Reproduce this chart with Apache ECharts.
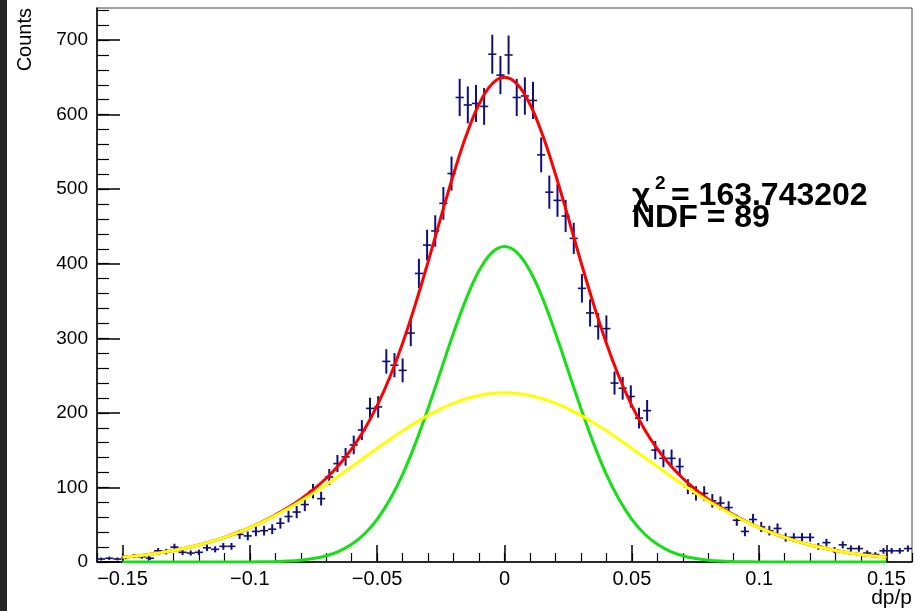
<!DOCTYPE html>
<html>
<head>
<meta charset="utf-8">
<script src="https://cdn.jsdelivr.net/npm/echarts@6/dist/echarts.min.js"></script>
<style>
html,body{margin:0;padding:0;background:#fff;}
#chart{width:916px;height:611px;}
</style>
</head>
<body>
<div id="chart"></div>
<script>
// Histogram: 100 bins from -0.16 to 0.16
const histMin = -0.16;
const binWidth = 0.0032;
const counts = [
  4, 5, 4, 6, 8, 7, 5, 15, 14, 20,
  13, 12, 13, 19, 17, 21, 21, 37, 35, 41,
  42, 44, 52, 61, 67, 77, 95, 85, 114, 132,
  141, 157, 177, 206, 208, 269, 264, 257, 307, 387,
  425, 444, 481, 521, 623, 613, 615, 611, 681, 653,
  680, 623, 625, 619, 546, 496, 485, 464, 434, 367,
  334, 316, 313, 240, 233, 222, 193, 203, 150, 139,
  139, 128, 101, 92, 92, 82, 79, 73, 56, 41,
  57, 47, 42, 45, 33, 33, 33, 33, 21, 26,
  16, 23, 18, 18, 12, 10, 15, 15, 15, 18
];

const curveX = Array.from({length: 61}, (_, i) => +(-0.15 + i * 0.005).toFixed(3));
const totalFit = [6.3,7.9,10.0,12.4,15.3,18.8,22.9,27.6,33.0,39.2,46.2,54.1,63.1,73.0,84.3,97.3,112.3,130.1,151.6,177.7,209.6,248.1,293.5,345.5,402.6,462.1,520.1,572.3,613.9,640.7,650,640.7,613.9,572.3,520.1,462.1,402.6,345.5,293.5,248.1,209.6,177.7,151.6,130.1,112.3,97.3,84.3,73.0,63.1,54.1,46.2,39.2,33.0,27.6,22.9,18.8,15.3,12.4,10.0,7.9,6.3];
const narrowFit = [0,0,0,0,0,0,0,0,0,0.1,0.1,0.3,0.7,1.3,2.5,4.7,8.4,14.4,23.7,37.6,57.2,83.7,117.6,158.8,205.9,256.6,307.1,353.3,390.5,414.6,423,414.6,390.5,353.3,307.1,256.6,205.9,158.8,117.6,83.7,57.2,37.6,23.7,14.4,8.4,4.7,2.5,1.3,0.7,0.3,0.1,0.1,0,0,0,0,0,0,0,0,0];
const wideFit = [6.3,7.9,10.0,12.4,15.3,18.8,22.9,27.6,33.0,39.1,46.1,53.8,62.4,71.7,81.8,92.6,103.9,115.7,127.9,140.1,152.4,164.4,175.9,186.7,196.7,205.5,213.0,219.0,223.4,226.1,227,226.1,223.4,219.0,213.0,205.5,196.7,186.7,175.9,164.4,152.4,140.1,127.9,115.7,103.9,92.6,81.8,71.7,62.4,53.8,46.1,39.1,33.0,27.6,22.9,18.8,15.3,12.4,10.0,7.9,6.3];

// Axis ticks
const xMajorTicks = [-0.15, -0.1, -0.05, 0, 0.05, 0.1, 0.15];
const xMinorTicks = [-0.16,-0.15,-0.14,-0.13,-0.12,-0.11,-0.1,-0.09,-0.08,-0.07,-0.06,-0.05,-0.04,-0.03,-0.02,-0.01,0,0.01,0.02,0.03,0.04,0.05,0.06,0.07,0.08,0.09,0.1,0.11,0.12,0.13,0.14,0.15,0.16];
const yMajorTicks = [0, 100, 200, 300, 400, 500, 600, 700];
const yMinorTicks = [0,20,40,60,80,100,120,140,160,180,200,220,240,260,280,300,320,340,360,380,400,420,440,460,480,500,520,540,560,580,600,620,640,660,680,700,720,740];
const yMax = 743;

const chiText = '163.743202';
const ndfText = 'NDF = 89';

const histData = counts.map((c, i) => [histMin + (i + 0.5) * binWidth, c, Math.sqrt(c)]);
const pair = arr => arr.map((v, i) => [curveX[i], v]);

const FONT = '"Liberation Sans", Arial, Helvetica, sans-serif';
const markColor = '#10107a';

function xLabel(v) {
  if (Math.abs(v) < 1e-9) return '0';
  const s = String(Math.abs(+v.toFixed(3)));
  return (v < 0 ? '\u2212' : '') + s;
}

const chart = echarts.init(document.getElementById('chart'), null, {renderer: 'canvas'});
chart.setOption({
  animation: false,
  backgroundColor: '#ffffff',
  grid: {left: 97, right: 4, top: 8, bottom: 49, show: true, borderColor: '#444', borderWidth: 1, backgroundColor: 'transparent'},
  xAxis: [
    {
      type: 'value', min: -0.16, max: 0.16, position: 'bottom',
      axisLine: {show: true, onZero: false, lineStyle: {color: '#000', width: 1.5}},
      axisTick: {show: true, inside: true, length: 17, customValues: xMajorTicks, lineStyle: {color: '#000', width: 1.5}},
      axisLabel: {show: true, customValues: xMajorTicks, formatter: xLabel, color: '#000', fontSize: 20, fontFamily: FONT, margin: 7},
      splitLine: {show: false}
    },
    {
      type: 'value', min: -0.16, max: 0.16, position: 'bottom',
      axisLine: {show: false, onZero: false},
      axisTick: {show: true, inside: true, length: 9, customValues: xMinorTicks, lineStyle: {color: '#000', width: 1.2}},
      axisLabel: {show: false, customValues: xMinorTicks},
      splitLine: {show: false}
    }
  ],
  yAxis: [
    {
      type: 'value', min: 0, max: yMax, position: 'left',
      axisLine: {show: true, onZero: false, lineStyle: {color: '#000', width: 1.5}},
      axisTick: {show: true, inside: true, length: 23, customValues: yMajorTicks, lineStyle: {color: '#000', width: 1.5}},
      axisLabel: {show: true, customValues: yMajorTicks, color: '#000', fontSize: 19, fontFamily: FONT, margin: 9},
      splitLine: {show: false}
    },
    {
      type: 'value', min: 0, max: yMax, position: 'left',
      axisLine: {show: false, onZero: false},
      axisTick: {show: true, inside: true, length: 12, customValues: yMinorTicks, lineStyle: {color: '#000', width: 1.2}},
      axisLabel: {show: false, customValues: yMinorTicks},
      splitLine: {show: false}
    }
  ],
  series: [
    {
      type: 'custom', xAxisIndex: 0, yAxisIndex: 0, z: 2,
      data: histData,
      renderItem: function (params, api) {
        const x = api.value(0), y = api.value(1), e = api.value(2);
        const c = api.coord([x, y]);
        const t = api.coord([x, y + e]);
        const b = api.coord([x, Math.max(0, y - e)]);
        const l = api.coord([x - binWidth / 2, y]);
        const r = api.coord([x + binWidth / 2, y]);
        return {
          type: 'group',
          children: [
            {type: 'line', shape: {x1: c[0], y1: t[1], x2: c[0], y2: b[1]}, style: {stroke: markColor, lineWidth: 2}},
            {type: 'line', shape: {x1: l[0], y1: c[1], x2: r[0], y2: c[1]}, style: {stroke: markColor, lineWidth: 1.6}}
          ]
        };
      }
    },
    {type: 'line', xAxisIndex: 0, yAxisIndex: 0, z: 3, data: pair(totalFit), showSymbol: false, smooth: 0.4, lineStyle: {color: '#ff0000', width: 3}},
    {type: 'line', xAxisIndex: 0, yAxisIndex: 0, z: 4, data: pair(narrowFit), showSymbol: false, smooth: 0.4, lineStyle: {color: '#14e014', width: 3}},
    {type: 'line', xAxisIndex: 0, yAxisIndex: 0, z: 5, data: pair(wideFit), showSymbol: false, smooth: 0.4, lineStyle: {color: '#ffff00', width: 3}}
  ],
  graphic: [
    {type: 'rect', left: 0, top: 0, shape: {width: 7, height: 611}, style: {fill: '#262626'}, z: 100},
    {type: 'text', x: 25, y: 8, rotation: Math.PI / 2, style: {text: 'Counts', font: '20px ' + FONT, fill: '#000', align: 'right', verticalAlign: 'middle'}},
    {type: 'text', x: 912, y: 598, style: {text: 'dp/p', font: '21px ' + FONT, fill: '#000', align: 'right', verticalAlign: 'middle'}},
    {type: 'text', x: 632, y: 196, style: {text: '\u03c7', font: 'bold 32px ' + FONT, fill: '#000', align: 'left', verticalAlign: 'middle'}},
    {type: 'text', x: 655, y: 184, style: {text: '2', font: 'bold 19px ' + FONT, fill: '#000', align: 'left', verticalAlign: 'middle'}},
    {type: 'text', x: 671, y: 196, style: {text: '= ' + chiText, font: 'bold 32px ' + FONT, fill: '#000', align: 'left', verticalAlign: 'middle'}},
    {type: 'text', x: 632, y: 218, style: {text: ndfText, font: 'bold 32px ' + FONT, fill: '#000', align: 'left', verticalAlign: 'middle'}}
  ]
});
</script>
</body>
</html>
